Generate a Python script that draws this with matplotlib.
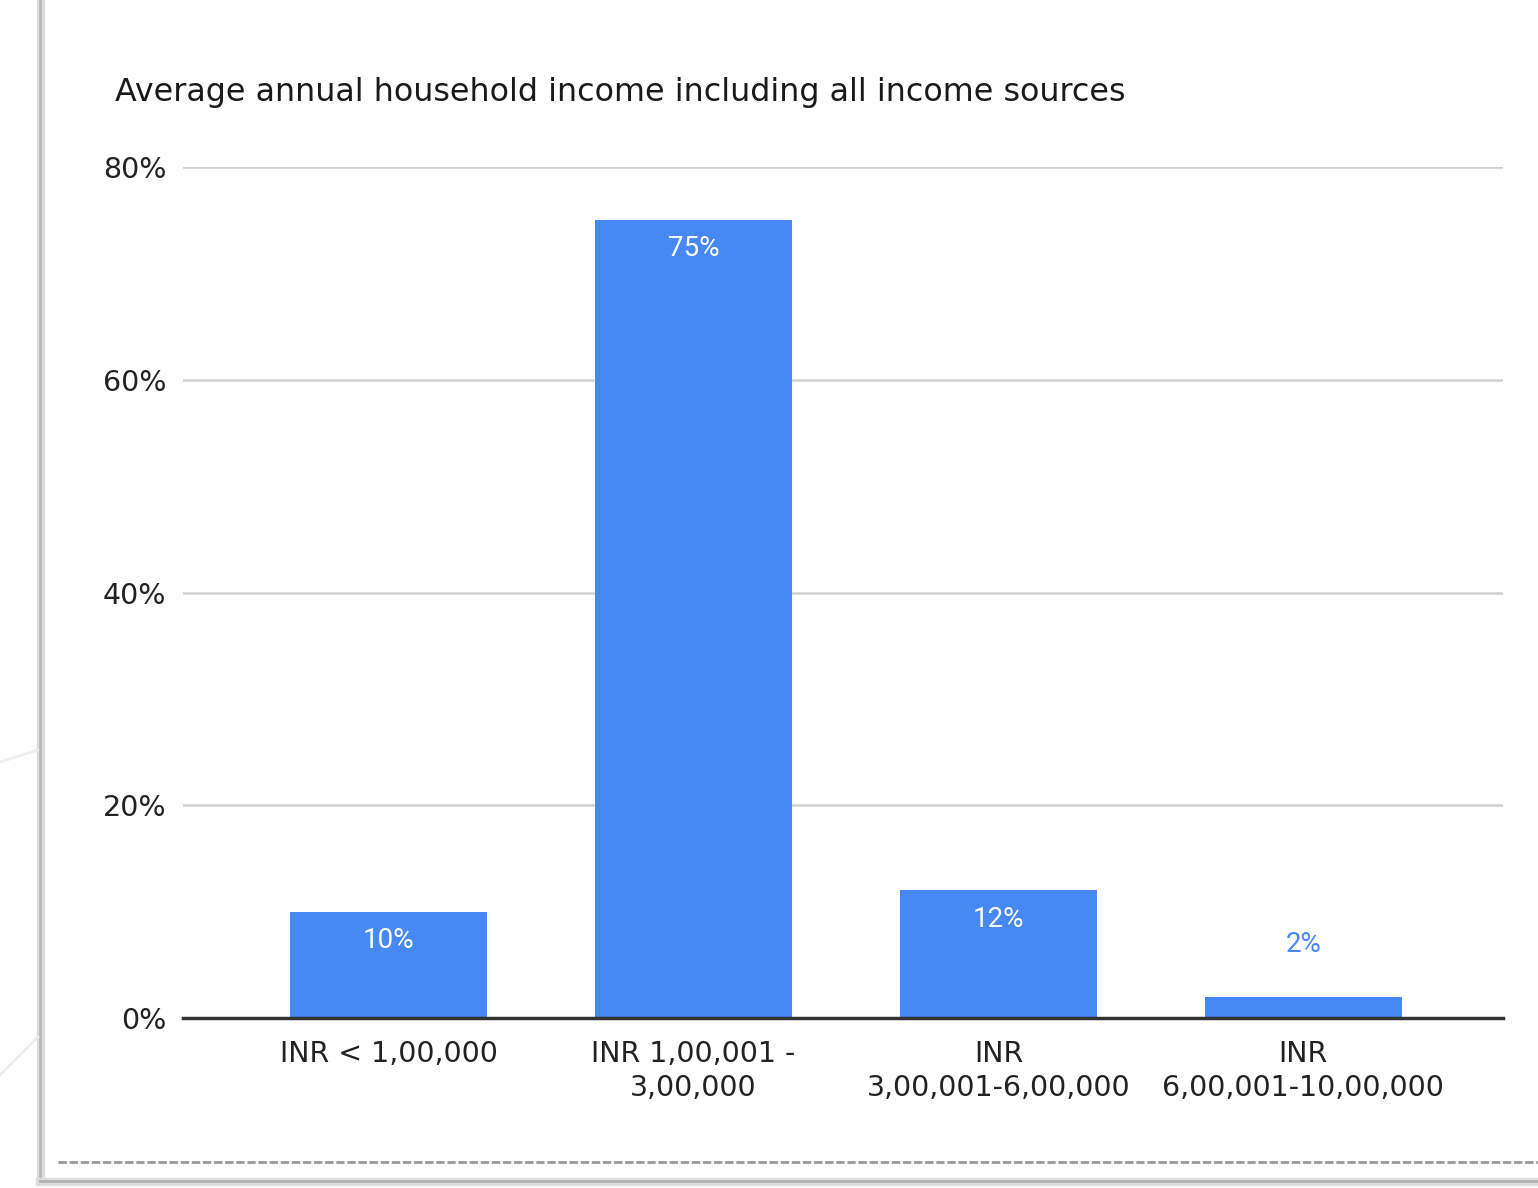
import matplotlib.pyplot as plt
from matplotlib.lines import Line2D
from matplotlib.ticker import FuncFormatter
import numpy as np

plt.rcParams['font.family'] = 'DejaVu Sans'

# Income brackets and share of households
categories = ["INR < 1,00,000", "INR 1,00,001 -\n3,00,000",
              "INR\n3,00,001-6,00,000", "INR\n6,00,001-10,00,000"]
shares = [10, 75, 12, 2]
value_labels = ["10%", "75%", "12%", "2%"]
y_ticks = [0, 20, 40, 60, 80]

bar_color = "#4688F4"
W, H = 1538, 1188

fig = plt.figure(figsize=(W / 100, H / 100), dpi=100)
fig.patch.set_facecolor("white")

# plot area in pixel coords: x 183..1503, y 167..1018
ax = fig.add_axes([183 / W, 1 - 1018 / H, (1503 - 183) / W, (1018 - 167) / H])

x = np.arange(len(categories))
bars = ax.bar(x, shares, width=0.645, color=bar_color, zorder=3)

ax.set_xlim(-0.675, 3.655)
ax.set_ylim(0, 80)
ax.set_yticks(y_ticks)
ax.yaxis.set_major_formatter(FuncFormatter(lambda v, _: f"{v:.0f}%"))
ax.grid(axis="y", color="#d0d0d0", linewidth=1.8, zorder=0)
ax.set_axisbelow(True)

for side in ["top", "right", "left"]:
    ax.spines[side].set_visible(False)
ax.spines["bottom"].set_color("#333333")
ax.spines["bottom"].set_linewidth(2.5)
ax.spines["bottom"].set_zorder(4)

ax.tick_params(axis="y", length=0, pad=12, labelsize=20.5, labelcolor="#222222")
ax.tick_params(axis="x", length=0, pad=16, labelsize=20.5, labelcolor="#222222")
ax.set_xticks(x)
ax.set_xticklabels(categories, linespacing=1.25)

# value labels: inside the bar when it is tall enough, above it otherwise
for xi, v, lab in zip(x, shares, value_labels):
    if v >= 5:
        ax.text(xi, v - 2.7, lab, ha="center", va="center", color="white",
                fontsize=20, family="Roboto", zorder=5)
    else:
        ax.text(xi, v + 4.9, lab, ha="center", va="center", color=bar_color,
                fontsize=20, family="Roboto", zorder=5)

fig.text(115 / W, 1 - 92 / H, "Average annual household income including all income sources",
         ha="left", va="center", fontsize=22.9, color="#1a1a1a")

# surrounding frame of the card
def fig_line(x0, y0, x1, y1, **kw):
    fig.add_artist(Line2D([x0 / W, x1 / W], [1 - y0 / H, 1 - y1 / H],
                          transform=fig.transFigure, **kw))

fig_line(41, 0, 41, 1181, color="#dddddd", linewidth=6)
fig_line(40, 0, 40, 1181, color="#b8b8b8", linewidth=2)
fig_line(40, 1182, W, 1182, color="#dddddd", linewidth=6)
fig_line(40, 1181, W, 1181, color="#b0b0b0", linewidth=2)
fig_line(58, 1162, W, 1162, color="#999999", linewidth=2, linestyle=(0, (3, 1)))
fig_line(0, 762, 38, 750, color="#eeeeee", linewidth=2)
fig_line(0, 1075, 38, 1037, color="#eeeeee", linewidth=2)

plt.savefig("out.png", dpi=100)
